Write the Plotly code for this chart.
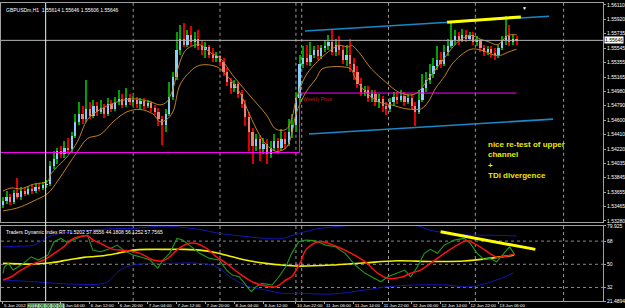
import plotly.graph_objects as go

# ---------------- data ----------------
bar_idx = list(range(143))
opens = [1.5349,1.5354,1.5359,1.5353,1.5364,1.5359,1.5367,1.5363,1.5370,1.5367,1.5372,1.5371,1.5375,1.5376,1.5400,1.5409,1.5419,1.5415,1.5424,1.5422,
         1.5439,1.5458,1.5468,1.5461,1.5474,1.5466,1.5479,1.5471,1.5476,1.5468,1.5481,1.5475,1.5484,1.5488,1.5480,1.5489,1.5484,1.5487,1.5481,1.5485,
         1.5479,1.5483,1.5476,1.5471,1.5461,1.5453,1.5468,1.5491,1.5517,1.5552,1.5567,1.5559,1.5571,1.5562,1.5566,1.5557,1.5552,1.5556,1.5546,1.5541,
         1.5544,1.5536,1.5523,1.5510,1.5502,1.5507,1.5494,1.5481,1.5464,1.5445,1.5426,1.5435,1.5422,1.5429,1.5416,1.5424,1.5432,1.5424,1.5435,1.5429,
         1.5445,1.5453,1.5489,1.5533,1.5542,1.5536,1.5546,1.5552,1.5544,1.5554,1.5557,1.5562,1.5549,1.5559,1.5552,1.5539,1.5546,1.5533,1.5523,1.5507,
         1.5497,1.5500,1.5489,1.5494,1.5484,1.5488,1.5479,1.5474,1.5484,1.5491,1.5487,1.5492,1.5484,1.5489,1.5479,1.5471,1.5487,1.5502,1.5513,1.5520,
         1.5531,1.5539,1.5533,1.5549,1.5557,1.5565,1.5570,1.5565,1.5572,1.5567,1.5571,1.5562,1.5565,1.5554,1.5549,1.5553,1.5548,1.5545,1.5554,1.5565,
         1.5570,1.5562,1.5567]
highs = [1.5359,1.5367,1.5363,1.5368,1.5384,1.5372,1.5372,1.5374,1.5376,1.5377,1.5377,1.5379,1.5381,1.5406,1.5419,1.5424,1.5426,1.5432,1.5436,1.5445,
         1.5468,1.5484,1.5479,1.5513,1.5484,1.5487,1.5484,1.5487,1.5481,1.5489,1.5487,1.5491,1.5500,1.5494,1.5502,1.5494,1.5492,1.5491,1.5489,1.5489,
         1.5487,1.5485,1.5480,1.5476,1.5465,1.5474,1.5510,1.5523,1.5575,1.5585,1.5588,1.5578,1.5583,1.5575,1.5578,1.5565,1.5562,1.5559,1.5554,1.5549,
         1.5546,1.5541,1.5528,1.5515,1.5513,1.5510,1.5500,1.5487,1.5471,1.5450,1.5442,1.5440,1.5437,1.5435,1.5432,1.5442,1.5437,1.5448,1.5445,1.5461,
         1.5468,1.5497,1.5546,1.5557,1.5559,1.5562,1.5557,1.5558,1.5559,1.5565,1.5572,1.5579,1.5567,1.5570,1.5557,1.5559,1.5567,1.5541,1.5531,1.5515,
         1.5505,1.5505,1.5500,1.5500,1.5494,1.5492,1.5484,1.5489,1.5497,1.5497,1.5500,1.5497,1.5494,1.5494,1.5484,1.5500,1.5520,1.5523,1.5533,1.5541,
         1.5557,1.5549,1.5559,1.5567,1.5588,1.5578,1.5575,1.5580,1.5578,1.5575,1.5575,1.5570,1.5567,1.5559,1.5557,1.5557,1.5554,1.5559,1.5570,1.5597,
         1.5585,1.5572,1.5570]
lows = [1.5345,1.5350,1.5349,1.5350,1.5357,1.5355,1.5361,1.5362,1.5363,1.5364,1.5367,1.5368,1.5371,1.5374,1.5396,1.5403,1.5410,1.5411,1.5416,1.5418,
        1.5436,1.5453,1.5455,1.5458,1.5461,1.5463,1.5466,1.5468,1.5463,1.5466,1.5471,1.5472,1.5480,1.5476,1.5477,1.5480,1.5479,1.5476,1.5475,1.5474,
        1.5476,1.5471,1.5467,1.5452,1.5428,1.5445,1.5466,1.5487,1.5513,1.5546,1.5556,1.5556,1.5557,1.5554,1.5552,1.5546,1.5542,1.5541,1.5536,1.5536,
        1.5531,1.5518,1.5505,1.5494,1.5497,1.5489,1.5476,1.5452,1.5419,1.5402,1.5419,1.5406,1.5416,1.5402,1.5411,1.5419,1.5416,1.5419,1.5422,1.5426,
        1.5437,1.5445,1.5484,1.5528,1.5532,1.5531,1.5541,1.5539,1.5540,1.5549,1.5552,1.5545,1.5544,1.5546,1.5533,1.5531,1.5523,1.5513,1.5502,1.5492,
        1.5492,1.5484,1.5484,1.5479,1.5476,1.5471,1.5467,1.5471,1.5479,1.5481,1.5484,1.5479,1.5481,1.5474,1.5452,1.5468,1.5484,1.5497,1.5507,1.5515,
        1.5526,1.5528,1.5531,1.5544,1.5554,1.5559,1.5559,1.5562,1.5562,1.5565,1.5558,1.5557,1.5549,1.5544,1.5545,1.5542,1.5539,1.5541,1.5552,1.5559,
        1.5557,1.5558,1.5559]
closes = [1.5354,1.5359,1.5353,1.5364,1.5359,1.5367,1.5363,1.5370,1.5367,1.5372,1.5371,1.5375,1.5376,1.5400,1.5409,1.5419,1.5415,1.5424,1.5422,1.5439,
          1.5458,1.5468,1.5461,1.5474,1.5466,1.5479,1.5471,1.5476,1.5468,1.5481,1.5475,1.5484,1.5488,1.5480,1.5489,1.5484,1.5487,1.5481,1.5485,1.5479,
          1.5483,1.5476,1.5471,1.5461,1.5453,1.5468,1.5491,1.5517,1.5552,1.5567,1.5559,1.5571,1.5562,1.5566,1.5557,1.5552,1.5556,1.5546,1.5541,1.5544,
          1.5536,1.5523,1.5510,1.5502,1.5507,1.5494,1.5481,1.5464,1.5445,1.5426,1.5435,1.5422,1.5429,1.5416,1.5424,1.5432,1.5424,1.5435,1.5429,1.5445,
          1.5453,1.5489,1.5533,1.5542,1.5536,1.5546,1.5552,1.5544,1.5554,1.5557,1.5562,1.5549,1.5559,1.5552,1.5539,1.5546,1.5533,1.5523,1.5507,1.5497,
          1.5500,1.5489,1.5494,1.5484,1.5488,1.5479,1.5474,1.5484,1.5491,1.5487,1.5492,1.5484,1.5489,1.5479,1.5471,1.5487,1.5502,1.5513,1.5520,1.5531,
          1.5539,1.5533,1.5549,1.5557,1.5565,1.5570,1.5565,1.5572,1.5567,1.5571,1.5562,1.5565,1.5554,1.5549,1.5553,1.5548,1.5545,1.5554,1.5565,1.5570,
          1.5562,1.5567,1.55646]

# moving-average envelope (read at selected bars)
ma_hi_x = [0,2.2,4.9,8.5,12.4,13.2,17.9,20.6,23.4,26.9,31.6,36,40.7,43.4,45.3,47,48.9,50.8,54.4,57.1,59.9,63.5,68.1,72.8,75.5,78.3,79.9,81,83.8,87.4,
           90.9,92.9,95.6,96.4,98.4,101.9,105.8,109.3,112.9,114.8,117.6,121.2,123.9,126.6,129.4,132.1,134.1,136.8,139.6,142]
ma_hi_y = [1.5367,1.5371,1.5370,1.5376,1.5380,1.5389,1.5413,1.5432,1.5461,1.5474,1.5484,1.5488,1.5484,1.5480,1.5484,1.5501,1.5536,1.5553,1.5559,1.5549,
           1.5542,1.5519,1.5493,1.5467,1.5448,1.5448,1.5463,1.5486,1.5519,1.5539,1.5553,1.5558,1.5556,1.5558,1.5549,1.5527,1.5510,1.5497,1.5493,1.5497,
           1.5514,1.5536,1.5553,1.5566,1.5571,1.5566,1.5563,1.5559,1.5571,1.5572]
ma_lo_x = [0,4.1,8.5,12.4,15.1,17.9,20.6,23.4,26.9,30.5,34.3,37.9,41.5,43.4,45.3,47,48.9,51.6,54.4,59.1,61.8,65.4,68.1,70.9,72.8,75.5,78.3,79.9,81,83.8,
           86.5,88.2,90.9,93.7,96.2,97.5,100.3,103.8,107.4,111.3,114,115.7,117.6,119.5,122.3,123.9,126.6,129.4,132.1,136,137.6,139.6,142]
ma_lo_y = [1.5341,1.5345,1.5354,1.5364,1.5380,1.5400,1.5419,1.5436,1.5441,1.5458,1.5471,1.5474,1.5468,1.5458,1.5461,1.5471,1.5506,1.5523,1.5532,1.5530,
           1.5519,1.5497,1.5468,1.5441,1.5428,1.5419,1.5424,1.5443,1.5468,1.5497,1.5514,1.5527,1.5530,1.5530,1.5527,1.5514,1.5497,1.5484,1.5480,1.5475,
           1.5474,1.5475,1.5484,1.5501,1.5519,1.5532,1.5545,1.5553,1.5552,1.5545,1.5545,1.5549,1.5553]

# weekly pivot
pivot_x = [-0.55, 82, 82, 142]
pivot_y = [1.54176, 1.54176, 1.54955, 1.54955]

# drawn channel + annotation lines
chan_up_x, chan_up_y = [83.5, 151], [1.55769, 1.55963]
chan_lo_x, chan_lo_y = [84.6, 152.1], [1.54418, 1.54613]
top_mark_x, top_mark_y = [122.8, 143.2], [1.55885, 1.55954]
bid_price = 1.55646

price_ticks = [1.56110,1.55920,1.55735,1.55545,1.55355,1.55165,1.54980,1.54790,1.54600,1.54410,
               1.54220,1.54035,1.53845,1.53655,1.53465,1.53280]

time_tick_idx = [0,16,24,32,40,48,56,64,72,81,89,97,105,113,121,129,137]
time_tick_txt = ["5 Jun 2012","6 Jun 04:00","6 Jun 12:00","6 Jun 20:00","7 Jun 04:00","7 Jun 12:00",
                 "7 Jun 20:00","8 Jun 04:00","8 Jun 12:00","10 Jun 22:00","11 Jun 06:00","11 Jun 14:00","11 Jun 22:00",
                 "12 Jun 06:00","12 Jun 14:00","12 Jun 22:00","13 Jun 06:00"]
day_sep_idx = [36, 60, 81, 82.6, 106.6, 130.6, 155]
cursor_idx = 11.8

# TDI
tdi_top_x = [0,5,8.6,12.4,16,19.6,22.3,27,31.6,36,40.7,45.3,49.7,54.4,59,63.4,68,72.7,77.1,81.8,88,95.5,105,114.6,118,124,129,136,142]
tdi_top_v = [63.6,64.1,64.9,71.3,74,75.2,76,77.1,77.8,77.8,79.1,79.6,78.6,77.1,74.4,72.7,71.3,70.1,70,74,78,80,80,79.9,76.5,74,72.7,72.5,72]
tdi_bot_x = [0,8.6,17.9,27,28.9,32.4,36,45.3,54.4,59,63.4,68,72.7,77.1,81.8,90.8,100.1,106.4,113.8,122.8,129.2,136.5,141.2]
tdi_bot_v = [37.8,36.4,34.7,34.7,36.4,45.5,49.4,50.7,50.7,48.1,39.1,32.6,30,27.5,27.5,26.9,30,32.6,33.9,33.9,32.6,37.8,43.4]
tdi_base_x = [0,8.6,13.3,17.9,22.3,27,31.6,36,40.7,45.3,49.7,54.4,59,63.4,68,72.7,77.1,81.8,90.8,100.1,109.1,118.2,127.5,136.5,141.2]
tdi_base_v = [50.7,50.2,51.2,53.3,55.4,56.4,58.5,61,61.6,61.6,61.6,61,58.9,55.8,52.7,50.7,49.4,48.6,49.4,51.2,52.7,52.2,52.5,55.4,57.1]
tdi_sig_x = [0,2.3,5,8.6,11.3,14.1,16.8,18.7,20.7,23.4,25,27,30.5,34.4,37.9,41.5,44.2,46.1,48.1,50.8,53.5,56.3,59,61.8,65.3,68.9,72.7,75.5,78.2,79.8,
             81.2,82.5,83.7,87.2,90,95.5,100.1,103.7,106.4,110,112.7,115.4,118.2,122,125.6,128.3,131.1,134.6,136.5,139.3,141.5]
tdi_sig_v = [37.8,40.3,45.5,50.7,53.3,58.5,63.6,68.8,71.3,71.9,68.8,66.2,61.6,60.5,58.5,53.3,52.7,55.8,61,65.7,66.2,62.3,55.8,50.7,43,36.4,33.1,32.6,37.8,40.3,
             46,53,61,67.5,66.2,59.7,52,43,39.1,39.9,43,45.5,50.7,58.5,64.9,68.2,64.9,58.5,55.4,56.4,57.9]
tdi_rsi_x = [0,0.4,1.5,2.8,5,7.8,9.7,12.4,14.1,16,17.9,19.3,21.5,23.4,24.8,27,29.7,31.6,33.3,36,37.9,40.7,42.8,44.2,46.1,48.1,49.7,52.2,54.4,57.1,
             59.8,61.8,63.4,65.3,67.2,68.6,70,71.6,74.4,76.3,78.2,79.8,81.2,81.8,83.7,86.4,89.2,91.9,94.6,97.4,100.1,102.8,104.5,106.4,109.1,111.1,112.7,
             114.6,116.5,118.2,120.1,122,124.8,127.5,129.2,131.1,133,134.6,136.5,138.5,140.1,141.5]
tdi_rsi_v = [43,48.1,50.7,45.5,49.4,55.8,53.3,57.1,67.5,70.1,66.7,68.8,71.3,72.7,61,59.7,62.3,64.9,61,57.1,55.8,53.3,46.8,53.3,58.5,70.1,68.8,63.6,58.5,54.6,
             53.3,45.5,41.6,40.3,33.9,28.7,32.6,35.2,33.9,40.3,48.1,58.5,64.9,67.5,68.8,68.2,64.9,63.6,58.5,49.4,43,39.1,36.4,40.3,43,45.5,40.3,
             48.1,58.5,61.6,58.5,64.9,68.8,70.1,66.2,58.5,53.8,54.6,52,58.5,63.6,57.1]
tdi_levels = [68, 50, 32]
tdi_ticks = [79.925, 68, 50, 32, 21.4894]
tdi_ticktxt = ["79.925", "68", "50", "32", "21.4894"]
div_x, div_v = [121, 147.2], [75.2, 61.6]

# ---------------- figure ----------------
FONT = "Liberation Sans"
X_RANGE = [-0.55, 165.9]

bull = [c >= o for o, c in zip(opens, closes)]
wick_col = ["#00a000" if b else "#e00000" for b in bull]
body_col = ["#87cefa" if b else "#f08080" for b in bull]
body_base = [min(o, c) for o, c in zip(opens, closes)]
body_h = [max(abs(c - o), 0.00004) for o, c in zip(opens, closes)]
wick_h = [h - l for h, l in zip(highs, lows)]

fig = go.Figure()
fig.add_trace(go.Bar(x=bar_idx, y=wick_h, base=lows, width=0.3, marker=dict(color=wick_col, line_width=0),
                     xaxis="x", yaxis="y"))
fig.add_trace(go.Bar(x=bar_idx, y=body_h, base=body_base, width=0.62, marker=dict(color=body_col, line_width=0),
                     xaxis="x", yaxis="y"))

fig.add_trace(go.Scatter(x=ma_hi_x, y=ma_hi_y, mode="lines", line=dict(color="#c08020", width=1, shape="spline"),
                         xaxis="x", yaxis="y"))
fig.add_trace(go.Scatter(x=ma_lo_x, y=ma_lo_y, mode="lines", line=dict(color="#c08020", width=1, shape="spline"),
                         xaxis="x", yaxis="y"))
fig.add_trace(go.Scatter(x=pivot_x, y=pivot_y, mode="lines", line=dict(color="#ff00ff", width=1),
                         xaxis="x", yaxis="y"))
fig.add_trace(go.Scatter(x=chan_up_x, y=chan_up_y, mode="lines", line=dict(color="#1a88c8", width=1.6),
                         xaxis="x", yaxis="y"))
fig.add_trace(go.Scatter(x=chan_lo_x, y=chan_lo_y, mode="lines", line=dict(color="#1a88c8", width=1.6),
                         xaxis="x", yaxis="y"))
fig.add_trace(go.Scatter(x=top_mark_x, y=top_mark_y, mode="lines", line=dict(color="#ffff00", width=3),
                         xaxis="x", yaxis="y"))

# TDI panel
fig.add_trace(go.Scatter(x=tdi_top_x, y=tdi_top_v, mode="lines", line=dict(color="#1414b4", width=1, shape="spline"),
                         xaxis="x2", yaxis="y2"))
fig.add_trace(go.Scatter(x=tdi_bot_x, y=tdi_bot_v, mode="lines", line=dict(color="#1414b4", width=1, shape="spline"),
                         xaxis="x2", yaxis="y2"))
fig.add_trace(go.Scatter(x=tdi_base_x, y=tdi_base_v, mode="lines", line=dict(color="#f0f000", width=1.6, shape="spline"),
                         xaxis="x2", yaxis="y2"))
fig.add_trace(go.Scatter(x=tdi_rsi_x, y=tdi_rsi_v, mode="lines", line=dict(color="#1e9a1e", width=1.1),
                         xaxis="x2", yaxis="y2"))
fig.add_trace(go.Scatter(x=tdi_sig_x, y=tdi_sig_v, mode="lines", line=dict(color="#ff1010", width=1.5, shape="spline"),
                         xaxis="x2", yaxis="y2"))
fig.add_trace(go.Scatter(x=div_x, y=div_v, mode="lines", line=dict(color="#ffff00", width=3),
                         xaxis="x2", yaxis="y2"))

shapes = []
for d in day_sep_idx:
    for yr in ("y domain", "y2 domain"):
        shapes.append(dict(type="line", xref="x", yref=yr, x0=d, x1=d, y0=0, y1=1,
                           line=dict(color="#9a9a9a", width=1, dash="dot"), layer="below"))
for lv in tdi_levels:
    shapes.append(dict(type="line", xref="x domain", yref="y2", x0=0, x1=1, y0=lv, y1=lv,
                       line=dict(color="#8a8a8a", width=1, dash="dot"), layer="below"))
shapes.append(dict(type="line", xref="x domain", yref="y", x0=0, x1=1, y0=bid_price, y1=bid_price,
                   line=dict(color="#b4b4b4", width=1)))
shapes.append(dict(type="line", xref="x", yref="paper", x0=cursor_idx, x1=cursor_idx, y0=0, y1=1,
                   line=dict(color="#d8ffd8", width=1)))

small = dict(family=FONT, size=5, color="#ffffff")
annotations = [
    dict(xref="paper", yref="paper", x=0, y=1, xanchor="left", yanchor="top", xshift=3, yshift=-2,
         text="GBPUSDm,H1  1.55614 1.55646 1.55606 1.55646", showarrow=False, font=small),
    dict(xref="paper", yref="y2 domain", x=0, y=1, xanchor="left", yanchor="top", xshift=3, yshift=-1,
         text="Traders Dynamic Index RT 71.5202 57.8556 44.1808 56.1252 57.7565", showarrow=False, font=small),
    dict(xref="x", yref="y", x=82.4, y=pivot_y[2], xanchor="left", yanchor="top", yshift=-1,
         text="Weekly Pivot", showarrow=False, font=dict(family=FONT, size=5, color="#d01010")),
    dict(xref="x", yref="y", x=133.5, y=1.5436, xanchor="left", yanchor="top", align="left",
         text="<b>nice re-test of upper<br>channel<br>+<br>TDi divergence</b>", showarrow=False,
         font=dict(family=FONT, size=8, color="#e8e800")),
    dict(xref="paper", yref="y", x=1, y=bid_price, xanchor="left", yanchor="middle", xshift=1,
         text="1.55646", showarrow=False, bgcolor="#ffffff", font=dict(family=FONT, size=5, color="#000000"),
         borderpad=0),
    dict(xref="x", yref="paper", x=cursor_idx, y=0, xanchor="center", yanchor="top", yshift=-1.5,
         text="2012.06.06 00:00", showarrow=False, bgcolor="#9be09b", font=dict(family=FONT, size=4.5, color="#000000"),
         borderpad=0),
    dict(xref="x", yref="paper", x=144.2, y=1, xanchor="center", yanchor="top",
         text="▼", showarrow=False, font=dict(family=FONT, size=5, color="#ffffff")),
]

fig.update_layout(
    width=625, height=308, margin=dict(l=0, r=19, t=0, b=7),
    paper_bgcolor="#000000", plot_bgcolor="#000000",
    showlegend=False, barmode="overlay", bargap=0,
    shapes=shapes, annotations=annotations,
    xaxis=dict(domain=[0, 1], range=X_RANGE, anchor="y", showticklabels=False, showgrid=False, zeroline=False,
               showline=True, linecolor="#a0a0a0", mirror=True, ticks=""),
    xaxis2=dict(domain=[0, 1], range=X_RANGE, anchor="y2", matches="x", showgrid=False, zeroline=False,
                tickmode="array", tickvals=time_tick_idx, ticktext=time_tick_txt, tickangle=0,
                ticklabelposition="outside right", ticks="outside", ticklen=2, tickcolor="#a0a0a0",
                tickfont=dict(family=FONT, size=4.4, color="#ffffff"),
                showline=True, linecolor="#a0a0a0", mirror=True),
    yaxis=dict(domain=[0.2658, 1], range=[1.53267, 1.56136], side="right", showgrid=False, zeroline=False,
               tickmode="array", tickvals=price_ticks, ticktext=[f"{p:.5f}" for p in price_ticks],
               ticks="outside", ticklen=2, tickcolor="#a0a0a0",
               tickfont=dict(family=FONT, size=5, color="#ffffff"),
               showline=True, linecolor="#a0a0a0", mirror=True),
    yaxis2=dict(domain=[0, 0.2525], range=[21.4894, 79.925], side="right", showgrid=False, zeroline=False,
                tickmode="array", tickvals=tdi_ticks, ticktext=tdi_ticktxt,
                ticks="outside", ticklen=2, tickcolor="#a0a0a0",
                tickfont=dict(family=FONT, size=5, color="#ffffff"),
                showline=True, linecolor="#a0a0a0", mirror=True),
)

fig.write_html("out.html")
